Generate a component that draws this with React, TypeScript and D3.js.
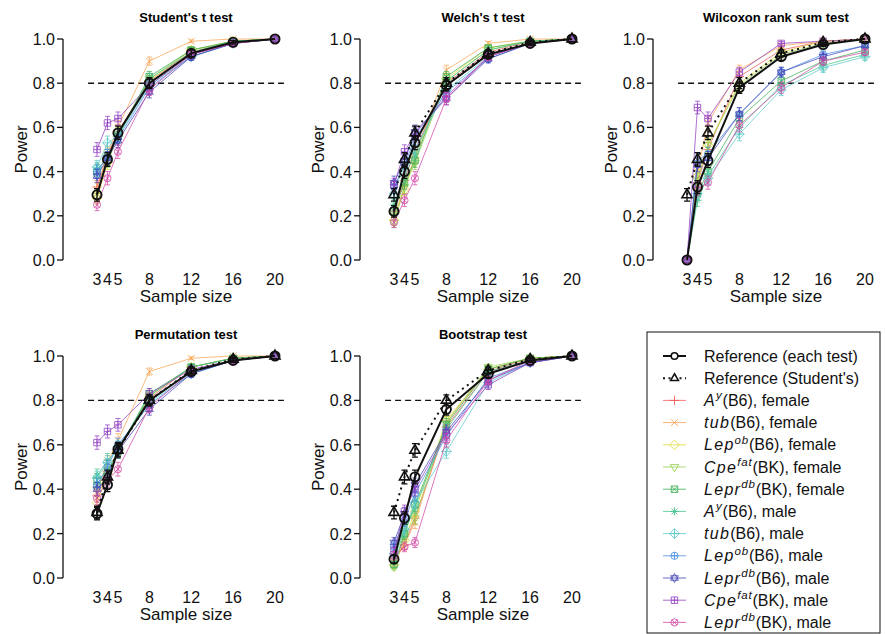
import React from "react";
import * as d3 from "d3";

const sampleSizes = [3, 4, 5, 8, 12, 16, 20];
const xTickLabels = ["3", "4", "5", "8", "12", "16", "20"];
const yTicks = [0, 0.2, 0.4, 0.6, 0.8, 1.0];
const simRuns = 1000;

const seriesColors = [
  "#f25a5a", "#f9a452", "#e3dc3c", "#98d050", "#3fae55", "#47c48c",
  "#5ec9c9", "#4a90e0", "#4545b8", "#9442c4", "#d24aa8",
];
const seriesPch = [3, 4, 5, 6, 7, 8, 9, 10, 11, 12, 13];
const legendGenes = ["A", "tub", "Lep", "Cpe", "Lepr", "A", "tub", "Lep", "Lepr", "Cpe", "Lepr"];
const legendSups = ["y", "", "ob", "fat", "db", "y", "", "ob", "db", "fat", "db"];
const legendRests = [
  "(B6), female", "(B6), female", "(B6), female", "(BK), female", "(BK), female",
  "(B6), male", "(B6), male", "(B6), male", "(B6), male", "(BK), male", "(BK), male",
];

// Reference (Student's t test) – drawn as dotted triangle line in other panels
const studentRef = [0.295, 0.455, 0.575, 0.8, 0.935, 0.985, 1.0];

const studentSeries = [
  [0.33, 0.47, 0.58, 0.81, 0.94, 0.99, 1.0],
  [0.32, 0.48, 0.6, 0.9, 0.99, 1.0, 1.0],
  [0.28, 0.44, 0.56, 0.81, 0.95, 0.99, 1.0],
  [0.29, 0.45, 0.57, 0.82, 0.95, 0.99, 1.0],
  [0.4, 0.47, 0.56, 0.83, 0.95, 0.99, 1.0],
  [0.41, 0.46, 0.56, 0.82, 0.94, 0.99, 1.0],
  [0.42, 0.53, 0.56, 0.79, 0.92, 0.98, 1.0],
  [0.4, 0.47, 0.55, 0.78, 0.92, 0.98, 1.0],
  [0.38, 0.46, 0.54, 0.76, 0.92, 0.98, 1.0],
  [0.5, 0.62, 0.64, 0.79, 0.93, 0.98, 1.0],
  [0.25, 0.37, 0.49, 0.77, 0.93, 0.98, 1.0],
];

const welchRef = [0.22, 0.4, 0.53, 0.79, 0.93, 0.98, 1.0];
const welchSeries = [
  [0.22, 0.36, 0.5, 0.8, 0.94, 0.99, 1.0],
  [0.2, 0.33, 0.47, 0.86, 0.98, 1.0, 1.0],
  [0.18, 0.32, 0.46, 0.82, 0.96, 0.99, 1.0],
  [0.17, 0.33, 0.44, 0.81, 0.95, 0.99, 1.0],
  [0.22, 0.35, 0.45, 0.83, 0.96, 0.99, 1.0],
  [0.25, 0.38, 0.48, 0.81, 0.95, 0.99, 1.0],
  [0.3, 0.44, 0.5, 0.77, 0.92, 0.98, 1.0],
  [0.33, 0.43, 0.55, 0.76, 0.91, 0.98, 1.0],
  [0.35, 0.45, 0.58, 0.73, 0.91, 0.98, 1.0],
  [0.34, 0.49, 0.57, 0.74, 0.92, 0.98, 1.0],
  [0.17, 0.27, 0.37, 0.73, 0.92, 0.98, 1.0],
];

const wilcoxonRef = [0.0, 0.33, 0.45, 0.78, 0.92, 0.975, 1.0];
const wilcoxonSeries = [
  [0, 0.35, 0.5, 0.83, 0.95, 0.99, 1.0],
  [0, 0.4, 0.62, 0.86, 0.97, 0.99, 1.0],
  [0, 0.38, 0.52, 0.8, 0.94, 0.99, 1.0],
  [0, 0.36, 0.52, 0.79, 0.93, 0.98, 1.0],
  [0, 0.3, 0.4, 0.64, 0.81, 0.9, 0.95],
  [0, 0.27, 0.38, 0.6, 0.79, 0.88, 0.93],
  [0, 0.3, 0.37, 0.57, 0.77, 0.87, 0.92],
  [0, 0.45, 0.48, 0.66, 0.85, 0.93, 0.97],
  [0, 0.43, 0.46, 0.66, 0.85, 0.92, 0.97],
  [0, 0.69, 0.64, 0.85, 0.98, 0.99, 1.0],
  [0, 0.32, 0.35, 0.61, 0.78, 0.9, 0.94],
];

const permutationRef = [0.29, 0.42, 0.58, 0.8, 0.93, 0.98, 1.0];
const permutationSeries = [
  [0.37, 0.48, 0.57, 0.81, 0.95, 0.99, 1.0],
  [0.39, 0.52, 0.62, 0.93, 0.99, 1.0, 1.0],
  [0.34, 0.47, 0.57, 0.82, 0.95, 0.99, 1.0],
  [0.4, 0.46, 0.57, 0.82, 0.95, 0.99, 1.0],
  [0.44, 0.48, 0.57, 0.83, 0.95, 0.99, 1.0],
  [0.46, 0.53, 0.58, 0.82, 0.95, 0.99, 1.0],
  [0.45, 0.52, 0.59, 0.79, 0.92, 0.98, 1.0],
  [0.42, 0.5, 0.6, 0.78, 0.92, 0.98, 1.0],
  [0.4, 0.45, 0.57, 0.76, 0.92, 0.98, 1.0],
  [0.61, 0.66, 0.69, 0.83, 0.94, 0.98, 1.0],
  [0.36, 0.44, 0.49, 0.77, 0.93, 0.98, 1.0],
];

const bootstrapRef = [0.085, 0.27, 0.455, 0.76, 0.92, 0.98, 1.0];
const bootstrapSeries = [
  [0.08, 0.15, 0.27, 0.68, 0.93, 0.99, 1.0],
  [0.07, 0.15, 0.25, 0.7, 0.94, 0.99, 1.0],
  [0.06, 0.17, 0.3, 0.71, 0.94, 0.99, 1.0],
  [0.05, 0.19, 0.27, 0.7, 0.95, 0.99, 1.0],
  [0.06, 0.2, 0.33, 0.69, 0.94, 0.99, 1.0],
  [0.09, 0.21, 0.32, 0.67, 0.93, 0.98, 1.0],
  [0.11, 0.22, 0.34, 0.57, 0.88, 0.97, 1.0],
  [0.14, 0.26, 0.38, 0.64, 0.9, 0.97, 1.0],
  [0.16, 0.29, 0.42, 0.66, 0.89, 0.97, 1.0],
  [0.12, 0.3, 0.4, 0.65, 0.87, 0.97, 1.0],
  [0.1, 0.14, 0.16, 0.62, 0.89, 0.98, 1.0],
];

const FONT = "'Liberation Sans', Arial, Helvetica, sans-serif";

function pchPath(pch: number, s: number): string {
  const circ = (r: number) => `M${-r},0a${r},${r} 0 1,0 ${2 * r},0a${r},${r} 0 1,0 ${-2 * r},0`;
  const plus = (r: number) => `M${-r},0L${r},0M0,${-r}L0,${r}`;
  const cross = (r: number) => `M${-r},${-r}L${r},${r}M${-r},${r}L${r},${-r}`;
  const sq = (r: number) => `M${-r},${-r}L${r},${-r}L${r},${r}L${-r},${r}Z`;
  const dia = (r: number) => `M0,${-r}L${r},0L0,${r}L${-r},0Z`;
  const triUp = (r: number) => `M0,${-r}L${r * 0.87},${r * 0.5}L${-r * 0.87},${r * 0.5}Z`;
  const triDn = (r: number) => `M0,${r}L${r * 0.87},${-r * 0.5}L${-r * 0.87},${-r * 0.5}Z`;
  switch (pch) {
    case 1: return circ(s);
    case 2: return triUp(s * 1.35);
    case 3: return plus(s * 1.3);
    case 4: return cross(s * 0.95);
    case 5: return dia(s * 1.35);
    case 6: return triDn(s * 1.35);
    case 7: return sq(s * 0.9) + cross(s * 0.9);
    case 8: return plus(s * 1.15) + cross(s * 0.85);
    case 9: return dia(s * 1.35) + plus(s * 1.35);
    case 10: return circ(s) + plus(s);
    case 11: return triUp(s * 1.25) + triDn(s * 1.25);
    case 12: return sq(s * 0.9) + plus(s * 0.9);
    case 13: return circ(s) + cross(s * 0.71);
    default: return circ(s);
  }
}

function ciHalf(p: number): number {
  return 1.96 * Math.sqrt((p * (1 - p)) / simRuns);
}

type PanelProps = {
  axisX: number;
  y0: number;
  y1: number;
  title: string;
  refVals: number[];
  series: number[][];
  showTri: boolean;
};

function Panel({ axisX, y0, y1, title, refVals, series, showTri }: PanelProps) {
  const x = d3.scaleLinear().domain([3, 20]).range([axisX + 34, axisX + 212]);
  const y = d3.scaleLinear().domain([0, 1]).range([y0, y1]);
  const line = d3
    .line<number>()
    .x((_, i) => x(sampleSizes[i]))
    .y((d) => y(d));
  const cx = (x(3) + x(20)) / 2;

  const errBars = (vals: number[], color: string, sw: number, cap: number, op: number) =>
    vals.map((v, i) => {
      const h = ciHalf(v);
      if (h < 0.001) return null;
      const px = x(sampleSizes[i]);
      const ya = y(Math.min(1, v + h));
      const yb = y(Math.max(0, v - h));
      return (
        <path
          key={i}
          d={`M${px},${ya}L${px},${yb}M${px - cap},${ya}L${px + cap},${ya}M${px - cap},${yb}L${px + cap},${yb}`}
          stroke={color}
          strokeWidth={sw}
          strokeOpacity={op}
          fill="none"
        />
      );
    });

  return (
    <g fontFamily={FONT}>
      <text x={cx} y={y1 - 17} textAnchor="middle" fontSize={13} fontWeight="bold">
        {title}
      </text>
      <line x1={axisX} x2={axisX} y1={y(0)} y2={y(1)} stroke="#111" strokeWidth={1.3} />
      {yTicks.map((t) => (
        <g key={t}>
          <line x1={axisX - 6} x2={axisX} y1={y(t)} y2={y(t)} stroke="#111" strokeWidth={1.3} />
          <text x={axisX - 8} y={y(t) + 6} textAnchor="end" fontSize={16} fill="#111">
            {t.toFixed(1)}
          </text>
        </g>
      ))}
      <text
        transform={`translate(${axisX - 36},${(y0 + y1) / 2}) rotate(-90)`}
        textAnchor="middle"
        fontSize={17}
        fill="#111"
      >
        Power
      </text>
      {sampleSizes.map((s, i) => (
        <text key={s} x={x(s)} y={y0 + 25} textAnchor="middle" fontSize={16} fill="#111">
          {xTickLabels[i]}
        </text>
      ))}
      <text x={cx} y={y0 + 42} textAnchor="middle" fontSize={17} fill="#111">
        Sample size
      </text>
      <line
        x1={x(2.15)}
        x2={x(20.85)}
        y1={y(0.8)}
        y2={y(0.8)}
        stroke="#111"
        strokeWidth={1.4}
        strokeDasharray="6,4"
      />
      {series.map((vals, k) => (
        <g key={k}>
          <path d={line(vals) || ""} fill="none" stroke={seriesColors[k]} strokeWidth={1} strokeOpacity={0.75} />
          {errBars(vals, seriesColors[k], 1, 2.5, 0.75)}
          {vals.map((v, i) => (
            <path
              key={i}
              transform={`translate(${x(sampleSizes[i])},${y(v)})`}
              d={pchPath(seriesPch[k], 3.6)}
              fill="none"
              stroke={seriesColors[k]}
              strokeWidth={1}
              strokeOpacity={0.8}
            />
          ))}
        </g>
      ))}
      {showTri && (
        <g>
          <path d={line(studentRef) || ""} fill="none" stroke="#111" strokeWidth={2} strokeDasharray="2,4" />
          {errBars(studentRef, "#111", 1.3, 3, 1)}
          {studentRef.map((v, i) => (
            <path
              key={i}
              transform={`translate(${x(sampleSizes[i])},${y(v)})`}
              d={pchPath(2, 4.3)}
              fill="none"
              stroke="#111"
              strokeWidth={1.6}
            />
          ))}
        </g>
      )}
      <g>
        <path d={line(refVals) || ""} fill="none" stroke="#111" strokeWidth={2} />
        {errBars(refVals, "#111", 1.3, 3, 1)}
        {refVals.map((v, i) => (
          <path
            key={i}
            transform={`translate(${x(sampleSizes[i])},${y(v)})`}
            d={pchPath(1, 4.6)}
            fill="none"
            stroke="#111"
            strokeWidth={1.8}
          />
        ))}
      </g>
    </g>
  );
}

function Legend() {
  const left = 647;
  const top = 332;
  const rowY = (i: number) => 356 + i * 22.2;
  const lx1 = 663;
  const lx2 = 686;
  const mx = 674.5;
  const tx = 704;
  const fs = 16;
  return (
    <g fontFamily={FONT}>
      <rect x={left} y={top} width={233} height={301} fill="white" stroke="#111" strokeWidth={1} />
      <line x1={lx1} x2={lx2} y1={rowY(0)} y2={rowY(0)} stroke="#111" strokeWidth={2} />
      <path transform={`translate(${mx},${rowY(0)})`} d={pchPath(1, 3.3)} fill="white" stroke="#111" strokeWidth={1.6} />
      <text x={tx} y={rowY(0) + 5.5} fontSize={fs} fill="#111">Reference (each test)</text>
      <line x1={lx1} x2={lx2} y1={rowY(1)} y2={rowY(1)} stroke="#111" strokeWidth={2} strokeDasharray="2,3.5" />
      <path transform={`translate(${mx},${rowY(1)})`} d={pchPath(2, 3.3)} fill="white" stroke="#111" strokeWidth={1.6} />
      <text x={tx} y={rowY(1) + 5.5} fontSize={fs} fill="#111">Reference (Student's)</text>
      {seriesColors.map((c, k) => {
        const yy = rowY(k + 2);
        return (
          <g key={k}>
            <line x1={lx1} x2={lx2} y1={yy} y2={yy} stroke={c} strokeWidth={1} strokeOpacity={0.8} />
            <path transform={`translate(${mx},${yy})`} d={pchPath(seriesPch[k], 3.6)} fill="none" stroke={c} strokeWidth={1} strokeOpacity={0.85} />
            <text x={tx} y={yy + 5.5} fontSize={fs} fill="#111">
              <tspan fontStyle="italic" letterSpacing={1.3}>{legendGenes[k]}</tspan>
              {legendSups[k] && (
                <tspan fontStyle="italic" fontSize={11.5} dy={-6.5} letterSpacing={0.8}>
                  {legendSups[k]}
                </tspan>
              )}
              <tspan dy={legendSups[k] ? 6.5 : 0}>{legendRests[k]}</tspan>
            </text>
          </g>
        );
      })}
    </g>
  );
}

export default function App() {
  return (
    <svg
      width={885}
      height={634}
      style={{ position: "absolute", left: 0, top: 0, background: "white" }}
    >
      <rect width={885} height={634} fill="white" />
      <Panel axisX={63} y0={260} y1={39} title="Student's t test" refVals={studentRef} series={studentSeries} showTri={false} />
      <Panel axisX={360} y0={260} y1={39} title="Welch's t test" refVals={welchRef} series={welchSeries} showTri={true} />
      <Panel axisX={653} y0={260} y1={39} title="Wilcoxon rank sum test" refVals={wilcoxonRef} series={wilcoxonSeries} showTri={true} />
      <Panel axisX={63} y0={578} y1={356} title="Permutation test" refVals={permutationRef} series={permutationSeries} showTri={true} />
      <Panel axisX={360} y0={578} y1={356} title="Bootstrap test" refVals={bootstrapRef} series={bootstrapSeries} showTri={true} />
      <Legend />
    </svg>
  );
}
